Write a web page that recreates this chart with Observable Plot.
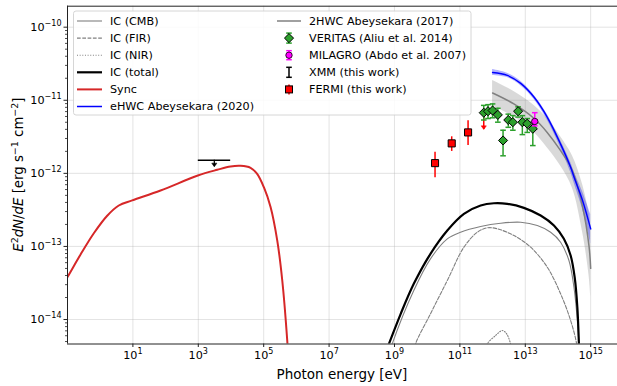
<!DOCTYPE html>
<html><head><meta charset="utf-8">
<script src="https://cdn.jsdelivr.net/npm/d3@7"></script>
<script src="https://cdn.jsdelivr.net/npm/@observablehq/plot@0.6"></script>
<style>
body{margin:0;background:#fff;}
#chart{width:617px;height:386px;}
svg{display:block;font-family:"DejaVu Sans",sans-serif;}
</style></head><body><div id="chart"></div>
<script>
// ---- data (log10 values) ----
const syncLogE = [-1.1, -0.99, -0.60, -0.195, 0.214, 0.569, 0.979, 1.845, 2.986, 3.579, 3.986, 4.292, 4.598, 4.80, 5.005, 5.21, 5.415, 5.568, 5.72, 5.8];
const syncLogF = [-13.49, -13.41, -13.11, -12.82, -12.58, -12.44, -12.37, -12.235, -12.03, -11.952, -11.906, -11.897, -11.924, -12.007, -12.19, -12.46, -12.92, -13.466, -14.287, -14.9];

const icTotLogE = [8.75, 8.83, 9.19, 9.59, 10.10, 10.615, 11.123, 11.634, 12.04, 12.45, 12.958, 13.47, 13.876, 14.18, 14.387, 14.51, 14.592, 14.64, 14.66];
const icTotLogF = [-14.42, -14.333, -13.922, -13.512, -13.101, -12.782, -12.554, -12.44, -12.409, -12.417, -12.472, -12.577, -12.714, -12.896, -13.124, -13.421, -13.832, -14.333, -14.6];

const icCmbLogE = [8.85, 8.93, 9.59, 10.10, 10.615, 11.02, 11.634, 12.246, 12.858, 13.368, 13.775, 14.08, 14.335, 14.488, 14.592, 14.64, 14.66];
const icCmbLogF = [-14.45, -14.333, -13.603, -13.17, -12.896, -12.806, -12.728, -12.683, -12.669, -12.714, -12.806, -12.942, -13.193, -13.558, -14.014, -14.333, -14.6];

const icFirLogE = [9.6, 9.645, 10.10, 10.615, 11.123, 11.533, 11.839, 12.145, 12.652, 13.163, 13.674, 14.08, 14.387, 14.57, 14.6];
const icFirLogF = [-14.45, -14.333, -13.922, -13.466, -13.01, -12.806, -12.745, -12.759, -12.851, -13.01, -13.285, -13.648, -14.014, -14.333, -14.5];

const icNirLogE = [11.8, 11.839, 12.09, 12.297, 12.43, 12.55, 12.58];
const icNirLogF = [-14.42, -14.333, -14.22, -14.151, -14.196, -14.333, -14.42];

const ehwcLogE = [12.0, 12.45, 12.86, 13.27, 13.67, 14.08, 14.39, 14.49, 14.75, 15.0];
const ehwcLogF = [-10.62, -10.66, -10.77, -10.96, -11.23, -11.60, -11.92, -12.05, -12.37, -12.76];
const ehwcLogErr = [0.04, 0.03, 0.03, 0.03, 0.04, 0.05, 0.07, 0.08, 0.12, 0.2];

const hwc2LogE = [12.0, 12.65, 13.27, 13.67, 14.08, 14.44, 14.75, 14.95, 15.0];
const hwc2LogF = [-10.90, -11.05, -11.25, -11.44, -11.69, -11.96, -12.45, -13.0, -13.30];
const hwc2LogHi = [-10.73, -10.88, -11.07, -11.25, -11.50, -11.76, -12.15, -12.55, -12.72];
const hwc2LogLo = [-11.08, -11.23, -11.44, -11.65, -11.90, -12.20, -12.80, -13.40, -13.68];

const verLogE = [11.73, 11.86, 12.00, 12.16, 12.32, 12.48, 12.62, 12.78, 12.91, 13.06, 13.23];
const verLogF = [-11.17, -11.15, -11.14, -11.20, -11.55, -11.27, -11.30, -11.15, -11.30, -11.32, -11.39];
const verLogHi = [-11.07, -11.06, -11.05, -11.11, -11.41, -11.19, -11.21, -11.09, -11.21, -11.25, -11.30];
const verLogLo = [-11.27, -11.25, -11.24, -11.30, -11.76, -11.37, -11.41, -11.23, -11.47, -11.44, -11.62];

const milLogE = [13.29];
const milLogF = [-11.29];
const milLogHi = [-11.17];
const milLogLo = [-11.35];

const fermiLogE = [10.24, 10.75, 11.25];
const fermiLogF = [-11.86, -11.59, -11.44];
const fermiLogHi = [-11.71, -11.50, -11.28];
const fermiLogLo = [-12.06, -11.70, -11.62];
const fermiUlLogE = [11.73];
const fermiUlLogTop = [-11.23];
const fermiUlLogTip = [-11.40];

const xmmLogE = [3.49];
const xmmLogF = [-11.82];
const xmmLogELo = [3.0];
const xmmLogEHi = [3.99];
const xmmLogTip = [-11.91];

const xTickExp = [1, 3, 5, 7, 9, 11, 13, 15];
const yTickExp = [-14, -13, -12, -11, -10];

const legendCol1 = ["IC (CMB)", "IC (FIR)", "IC (NIR)", "IC (total)", "Sync", "eHWC Abeysekara (2020)"];
const legendCol2 = ["2HWC Abeysekara (2017)", "VERITAS (Aliu et al. 2014)", "MILAGRO (Abdo et al. 2007)", "XMM (this work)", "FERMI (this work)"];

// ---- build ----
const p = v => 10 ** v;
const series = (le, lf) => le.map((e, i) => ({x: p(e), y: p(lf[i])}));
const sync = series(syncLogE, syncLogF);
const icTot = series(icTotLogE, icTotLogF);
const icCmb = series(icCmbLogE, icCmbLogF);
const icFir = series(icFirLogE, icFirLogF);
const icNir = series(icNirLogE, icNirLogF);
const ehwc = ehwcLogE.map((e, i) => ({x: p(e), y: p(ehwcLogF[i]), lo: p(ehwcLogF[i] - ehwcLogErr[i]), hi: p(ehwcLogF[i] + ehwcLogErr[i])}));
const hwc2 = hwc2LogE.map((e, i) => ({x: p(e), y: p(hwc2LogF[i]), lo: p(hwc2LogLo[i]), hi: p(hwc2LogHi[i])}));
const ver = verLogE.map((e, i) => ({x: p(e), y: p(verLogF[i]), lo: p(verLogLo[i]), hi: p(verLogHi[i])}));
const mil = milLogE.map((e, i) => ({x: p(e), y: p(milLogF[i]), lo: p(milLogLo[i]), hi: p(milLogHi[i])}));
const fermi = fermiLogE.map((e, i) => ({x: p(e), y: p(fermiLogF[i]), lo: p(fermiLogLo[i]), hi: p(fermiLogHi[i])}));
const fermiUl = fermiUlLogE.map((e, i) => ({x: p(e), top: p(fermiUlLogTop[i]), tip: p(fermiUlLogTip[i])}));
const xmm = xmmLogE.map((e, i) => ({x: p(e), y: p(xmmLogF[i]), x1: p(xmmLogELo[i]), x2: p(xmmLogEHi[i]), tip: p(xmmLogTip[i])}));

const xTicks = xTickExp.map(p);
const yTicks = yTickExp.map(p);
const yMinor = [];
for (let k = -15; k <= -10; k++) for (let m = 2; m <= 9; m++) yMinor.push(m * 10 ** k);

const xDomain = [1e-1, 10 ** 15.82];
const yDomain = [10 ** -14.335, 10 ** -9.713];
const yMinorIn = yMinor.filter(v => v > yDomain[0] && v < yDomain[1]);

const capSym = {draw(ctx, size) { const w = Math.sqrt(size / Math.PI); ctx.moveTo(-w, 0); ctx.lineTo(w, 0); }};
const downTri = {draw(ctx, size) { const w = Math.sqrt(size / Math.PI); ctx.moveTo(0, 0); ctx.lineTo(-w, -w * 1.4); ctx.lineTo(w, -w * 1.4); ctx.closePath(); }};

const fmtExp = v => { const e = Math.round(Math.log10(v)); return "10^" + String(e).replace("-", "\u2212"); };
const GREEN = "#2ca02c", RED = "#d62728", GRAY = "#808080";

const plot = Plot.plot({
  width: 617, height: 386,
  marginLeft: 67, marginRight: 0, marginTop: 5.7, marginBottom: 42.5,
  x: {type: "log", domain: xDomain},
  y: {type: "log", domain: yDomain},
  style: {fontFamily: "DejaVu Sans", fontSize: "11.2px", color: "#000", background: "#fff", overflow: "hidden"},
  marks: [
    Plot.gridX(xTicks, {stroke: "#b0b0b0", strokeOpacity: 0.45, strokeWidth: 0.8}),
    Plot.gridY(yTicks, {stroke: "#b0b0b0", strokeOpacity: 0.45, strokeWidth: 0.8}),
    Plot.areaY(hwc2, {x: "x", y1: "lo", y2: "hi", fill: "#808080", fillOpacity: 0.3, curve: "catmull-rom", clip: true}),
    Plot.areaY(ehwc, {x: "x", y1: "lo", y2: "hi", fill: "blue", fillOpacity: 0.3, curve: "catmull-rom", clip: true}),
    Plot.line(hwc2, {x: "x", y: "y", stroke: GRAY, strokeWidth: 1.5, curve: "catmull-rom", clip: true}),
    Plot.line(ehwc, {x: "x", y: "y", stroke: "blue", strokeWidth: 1.5, curve: "catmull-rom", clip: true}),
    Plot.line(icCmb, {x: "x", y: "y", stroke: GRAY, strokeWidth: 1.1, curve: "catmull-rom", clip: true}),
    Plot.line(icFir, {x: "x", y: "y", stroke: GRAY, strokeWidth: 1.1, strokeDasharray: "3.7,1.6", curve: "catmull-rom", clip: true}),
    Plot.line(icNir, {x: "x", y: "y", stroke: GRAY, strokeWidth: 1.1, strokeDasharray: "1,1.65", curve: "catmull-rom", clip: true}),
    Plot.line(icTot, {x: "x", y: "y", stroke: "black", strokeWidth: 2.2, curve: "catmull-rom", clip: true}),
    Plot.line(sync, {x: "x", y: "y", stroke: RED, strokeWidth: 2, curve: "catmull-rom", clip: true}),
    // XMM upper limit
    Plot.ruleY(xmm, {y: "y", x1: "x1", x2: "x2", stroke: "black", strokeWidth: 1.5}),
    Plot.ruleX(xmm, {x: "x", y1: "y", y2: "tip", stroke: "black", strokeWidth: 1.2}),
    Plot.dot(xmm, {x: "x", y: "tip", symbol: downTri, r: 2.6, fill: "black", stroke: "black", strokeWidth: 0.5}),
    // FERMI
    Plot.ruleX(fermi, {x: "x", y1: "lo", y2: "hi", stroke: "red", strokeWidth: 1.5}),
    Plot.dot(fermi, {x: "x", y: "y", symbol: "square", r: 4, fill: "red", stroke: "black", strokeWidth: 1}),
    Plot.ruleX(fermiUl, {x: "x", y1: "top", y2: "tip", stroke: "red", strokeWidth: 1.5}),
    Plot.dot(fermiUl, {x: "x", y: "tip", symbol: downTri, r: 2.6, fill: "red", stroke: "red", strokeWidth: 0.5}),
    // VERITAS
    Plot.ruleX(ver, {x: "x", y1: "lo", y2: "hi", stroke: GREEN, strokeWidth: 1.5}),
    Plot.dot(ver, {x: "x", y: "lo", symbol: capSym, r: 2.8, stroke: GREEN, strokeWidth: 1.5}),
    Plot.dot(ver, {x: "x", y: "hi", symbol: capSym, r: 2.8, stroke: GREEN, strokeWidth: 1.5}),
    Plot.dot(ver, {x: "x", y: "y", symbol: "diamond2", r: 4.1, fill: GREEN, stroke: "black", strokeWidth: 1}),
    // MILAGRO
    Plot.ruleX(mil, {x: "x", y1: "lo", y2: "hi", stroke: "magenta", strokeWidth: 1.5}),
    Plot.dot(mil, {x: "x", y: "hi", symbol: capSym, r: 2.8, stroke: "magenta", strokeWidth: 1.5}),
    Plot.dot(mil, {x: "x", y: "lo", symbol: capSym, r: 2.8, stroke: "magenta", strokeWidth: 1.5}),
    Plot.dot(mil, {x: "x", y: "y", r: 3.2, fill: "magenta", stroke: "black", strokeWidth: 0.8}),
    // axes
    Plot.axisX(xTicks, {tickSize: 3.5, tickPadding: 3.5, tickFormat: fmtExp, label: null, stroke: "#222"}),
    Plot.axisY(yTicks, {tickSize: 3.5, tickPadding: 2.5, tickFormat: fmtExp, label: null, stroke: "#222"}),
    Plot.axisY(yMinorIn, {tickSize: 2, tickFormat: () => "", label: null, stroke: "#222", strokeWidth: 0.8}),
    Plot.ruleX([xDomain[0]], {stroke: "#222", strokeWidth: 1}),
    Plot.ruleY(yDomain, {stroke: "#222", strokeWidth: 1})
  ]
});

const svg = d3.select(plot);
// superscripts for tick labels
svg.selectAll("text").each(function () {
  const m = /^10\^(.+)$/.exec(this.textContent);
  if (m) {
    const s = d3.select(this);
    s.text("10");
    s.append("tspan").attr("dy", "-0.6em").attr("font-size", "0.72em").text(m[1]);
  }
});

// axis titles
svg.append("text").attr("x", 342).attr("y", 378.5).attr("text-anchor", "middle")
  .attr("font-size", "13.5px").attr("fill", "#000").text("Photon energy [eV]");
const yl = svg.append("text").attr("transform", "translate(22.5,174.6) rotate(-90)")
  .attr("text-anchor", "middle").attr("font-size", "13.3px").attr("fill", "#000");
yl.append("tspan").attr("font-style", "italic").text("E");
yl.append("tspan").attr("dy", -5).attr("font-size", "9.5px").text("2");
yl.append("tspan").attr("dy", 5).attr("font-style", "italic").text("dN");
yl.append("tspan").text("/");
yl.append("tspan").attr("font-style", "italic").text("dE");
yl.append("tspan").text(" [erg s");
yl.append("tspan").attr("dy", -5).attr("font-size", "9.5px").text("\u22121");
yl.append("tspan").attr("dy", 5).text(" cm");
yl.append("tspan").attr("dy", -5).attr("font-size", "9.5px").text("\u22122");
yl.append("tspan").attr("dy", 5).text("]");

// legend
const lg = svg.append("g").attr("font-size", "11.2px").attr("fill", "#000").attr("text-anchor", "start");
lg.append("rect").attr("x", 73.5).attr("y", 11).attr("width", 397.5).attr("height", 104)
  .attr("rx", 2.5).attr("fill", "white").attr("fill-opacity", 0.85).attr("stroke", "#cccccc").attr("stroke-width", 0.8);
const rowY = i => 21 + 17.1 * i;
const col1Styles = [
  {stroke: GRAY, w: 1.1, dash: null},
  {stroke: GRAY, w: 1.1, dash: "3.7,1.6"},
  {stroke: GRAY, w: 1.1, dash: "1,1.65"},
  {stroke: "black", w: 2.2, dash: null},
  {stroke: RED, w: 2, dash: null},
  {stroke: "blue", w: 1.5, dash: null}
];
legendCol1.forEach((t, i) => {
  const y = rowY(i), st = col1Styles[i];
  const l = lg.append("line").attr("x1", 77).attr("x2", 102).attr("y1", y).attr("y2", y)
    .attr("stroke", st.stroke).attr("stroke-width", st.w);
  if (st.dash) l.attr("stroke-dasharray", st.dash);
  lg.append("text").attr("x", 110).attr("y", y).attr("dy", "0.35em").attr("text-anchor", "start").text(t);
});
const mx = 289;
legendCol2.forEach((t, i) => {
  const y = rowY(i);
  lg.append("text").attr("x", 309).attr("y", y).attr("dy", "0.35em").attr("text-anchor", "start").text(t);
});
// 2HWC line
lg.append("line").attr("x1", 277).attr("x2", 301).attr("y1", rowY(0)).attr("y2", rowY(0)).attr("stroke", GRAY).attr("stroke-width", 1.5);
function errGlyph(y, color, h, cap) {
  lg.append("line").attr("x1", mx).attr("x2", mx).attr("y1", y - h).attr("y2", y + h).attr("stroke", color).attr("stroke-width", 1.5);
  if (cap) {
    lg.append("line").attr("x1", mx - cap).attr("x2", mx + cap).attr("y1", y - h).attr("y2", y - h).attr("stroke", color).attr("stroke-width", 1.5);
    lg.append("line").attr("x1", mx - cap).attr("x2", mx + cap).attr("y1", y + h).attr("y2", y + h).attr("stroke", color).attr("stroke-width", 1.5);
  }
}
errGlyph(rowY(1), GREEN, 5, 2.8);
lg.append("path").attr("transform", `translate(${mx},${rowY(1)})`).attr("d", d3.symbol(d3.symbolDiamond2, Math.PI * 4.1 * 4.1)())
  .attr("fill", GREEN).attr("stroke", "black").attr("stroke-width", 1);
errGlyph(rowY(2), "magenta", 4.5, 2.8);
lg.append("circle").attr("cx", mx).attr("cy", rowY(2)).attr("r", 3.2).attr("fill", "magenta").attr("stroke", "black").attr("stroke-width", 0.8);
errGlyph(rowY(3), "black", 5, 2.8);
errGlyph(rowY(4), "red", 5, 0);
lg.append("rect").attr("x", mx - 3.5).attr("y", rowY(4) - 3.5).attr("width", 7).attr("height", 7)
  .attr("fill", "red").attr("stroke", "black").attr("stroke-width", 1);

document.getElementById("chart").appendChild(plot);
</script></body></html>
